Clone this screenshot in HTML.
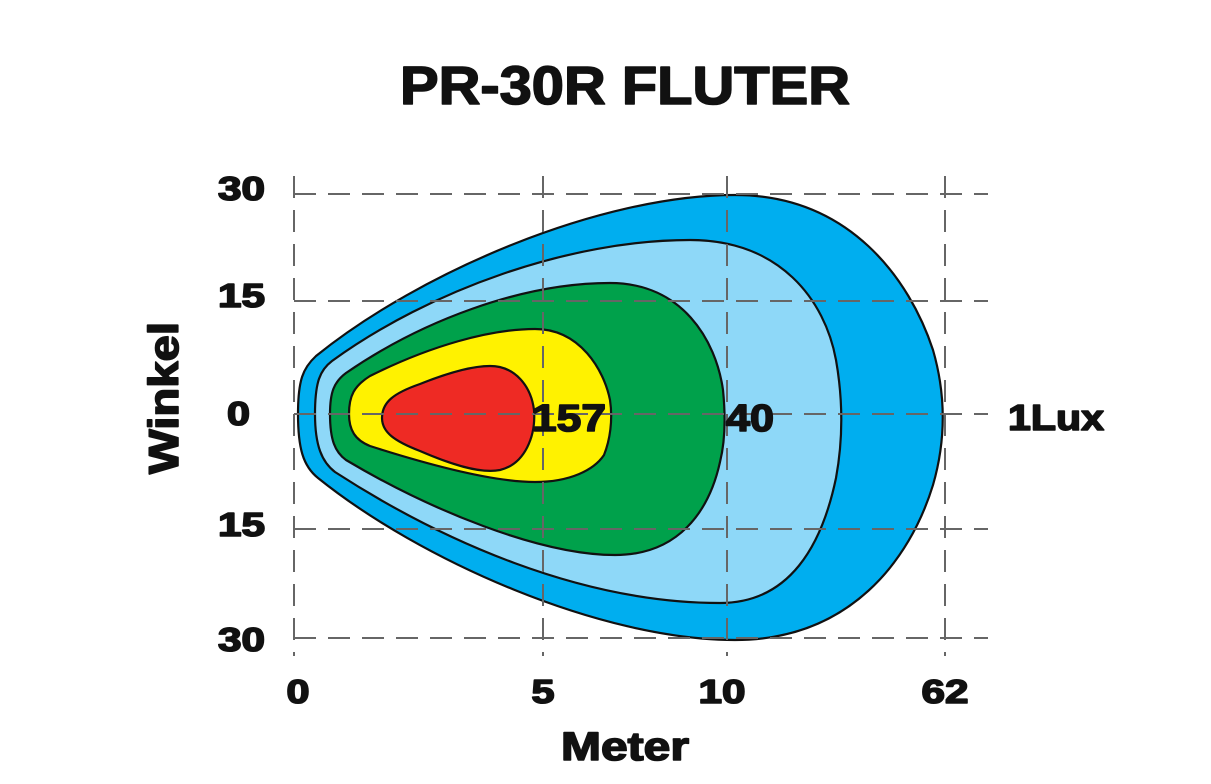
<!DOCTYPE html>
<html><head><meta charset="utf-8"><style>
html,body{margin:0;padding:0;background:#fff;width:1211px;height:784px;overflow:hidden}
svg{display:block}
text{font-family:"Liberation Sans",Arial,sans-serif;font-weight:bold;fill:#111;stroke:#111;stroke-width:1.6;stroke-linejoin:round}
</style></head><body>
<svg width="1211" height="784" viewBox="0 0 1211 784">
<g stroke="#111" stroke-width="2.2" stroke-linejoin="round">
<path fill="#00AEEF" d="M298,414 C298,380 303,368 316,356 C420,272 600,195 735,195 C850,195 910,280 933,350 C946,395 946,440 933,485 C910,560 850,640 735,640 C600,640 420,560 318,478 C303,466 298,448 298,414 Z"/>
<path fill="#8ED8F8" d="M315,414 C315,382 320,370 332,361 C430,290 570,240 690,240 C780,240 825,300 836,360 C843,400 843,440 836,478 C822,545 790,603 720,603 C580,603 440,540 335,472 C322,462 315,446 315,414 Z"/>
<path fill="#00A14B" d="M330,414 C330,392 334,382 346,373 C420,322 520,283 610,283 C682,283 716,340 723,390 C726,420 725,442 720,462 C709,512 678,555 615,555 C540,555 430,510 346,460 C335,452 330,440 330,414 Z"/>
<path fill="#FFF200" d="M349,414 C349,396 354,386 370,376 C430,346 490,329 535,329 C580,329 604,370 610,400 C613,420 610,440 604,455 C594,470 570,482 535,482 C490,482 420,462 370,446 C355,440 349,430 349,414 Z"/>
<path fill="#EE2A24" d="M382,418 C382,402 394,393 420,384 C450,372 474,366 490,366 C515,366 531,386 534,410 C536,436 525,464 500,470 C480,474 450,464 420,451 C394,441 382,432 382,418 Z"/>
</g>
<g stroke="#666" stroke-width="2" stroke-dasharray="22,12" fill="none">
<line x1="294" y1="194" x2="988" y2="194"/>
<line x1="294" y1="301" x2="988" y2="301"/>
<line x1="294" y1="414" x2="988" y2="414"/>
<line x1="294" y1="529" x2="988" y2="529"/>
<line x1="294" y1="638" x2="988" y2="638"/>
<line x1="294" y1="176" x2="294" y2="656"/>
<line x1="543" y1="176" x2="543" y2="656"/>
<line x1="727" y1="176" x2="727" y2="656"/>
<line x1="945" y1="176" x2="945" y2="656"/>
</g>
<text x="625" y="104" font-size="54" text-anchor="middle" textLength="450" lengthAdjust="spacingAndGlyphs" stroke-width="2">PR-30R FLUTER</text>
<g font-size="33" text-anchor="end">
<text x="265" y="200" textLength="47" lengthAdjust="spacingAndGlyphs">30</text>
<text x="265" y="307" textLength="47" lengthAdjust="spacingAndGlyphs">15</text>
<text x="250" y="425" textLength="23" lengthAdjust="spacingAndGlyphs">0</text>
<text x="265" y="536" textLength="47" lengthAdjust="spacingAndGlyphs">15</text>
<text x="265" y="651" textLength="47" lengthAdjust="spacingAndGlyphs">30</text>
</g>
<g font-size="33" text-anchor="middle">
<text x="298" y="703" textLength="23" lengthAdjust="spacingAndGlyphs">0</text>
<text x="543" y="703" textLength="23" lengthAdjust="spacingAndGlyphs">5</text>
<text x="722" y="703" textLength="47" lengthAdjust="spacingAndGlyphs">10</text>
<text x="945" y="703" textLength="47" lengthAdjust="spacingAndGlyphs">62</text>
</g>
<text x="625" y="760" font-size="40" text-anchor="middle" textLength="128" lengthAdjust="spacingAndGlyphs">Meter</text>
<text transform="translate(178,398) rotate(-90)" font-size="42" text-anchor="middle" textLength="152" lengthAdjust="spacingAndGlyphs">Winkel</text>
<text x="1056" y="430" font-size="36" text-anchor="middle" textLength="96" lengthAdjust="spacingAndGlyphs">1Lux</text>
<text x="569" y="431" font-size="38" text-anchor="middle" fill="#231f20" textLength="74" lengthAdjust="spacingAndGlyphs">157</text>
<text x="750" y="431" font-size="38" text-anchor="middle" fill="#231f20" textLength="48" lengthAdjust="spacingAndGlyphs">40</text>
</svg>
</body></html>
